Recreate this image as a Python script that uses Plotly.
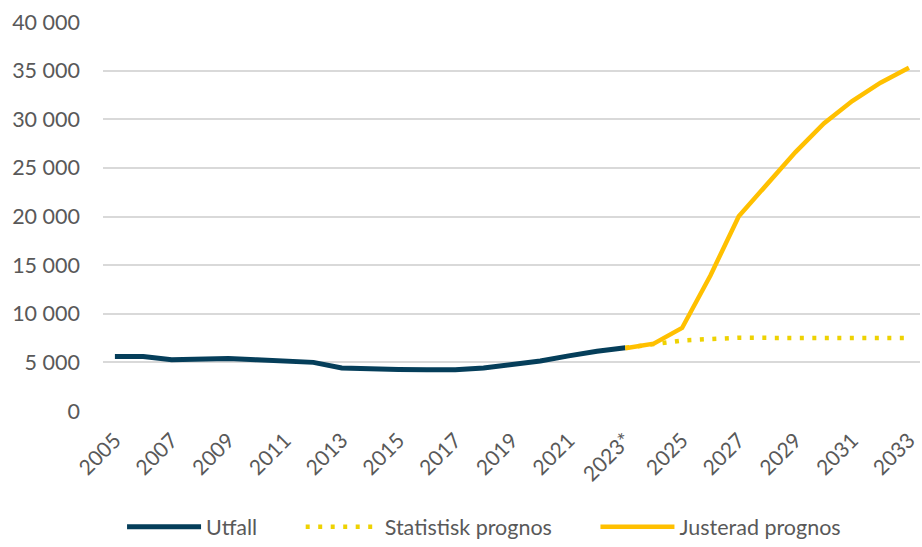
import plotly.graph_objects as go

years_utfall = list(range(2005, 2024))
utfall = [5600, 5600, 5260, 5290, 5400, 5270, 5150, 5000, 4430, 4300, 4260, 4230, 4230,
          4430, 4740, 5150, 5670, 6150, 6500]

years_prognos = list(range(2023, 2034))
statistisk = [6500, 6900, 7250, 7400, 7530, 7520, 7520, 7520, 7520, 7520, 7510]
justerad = [6450, 6930, 8540, 13930, 20030, 23400, 26620, 29570, 31870, 33760, 35300]

tick_years = list(range(2005, 2034, 2))
tick_labels = [("2023*" if y == 2023 else str(y)) for y in tick_years]
y_ticks = list(range(0, 40001, 5000))
y_tick_labels = ["0" if v == 0 else f"{v // 1000} 000" for v in y_ticks]

PAD = "\u00a0" * 7

fig = go.Figure()
fig.add_trace(go.Scatter(x=years_utfall, y=utfall, mode="lines", name="Utfall" + PAD,
                         line=dict(color="#053E5A", width=5)))
fig.add_trace(go.Scatter(x=years_prognos, y=statistisk, mode="lines", name="Statistisk prognos" + PAD,
                         line=dict(color="#EED202", width=4.5, dash="4px,8.5px")))
fig.add_trace(go.Scatter(x=years_prognos, y=justerad, mode="lines", name="Justerad prognos",
                         line=dict(color="#FFC000", width=4.5)))

fig.update_layout(
    width=922, height=547,
    margin=dict(l=103, r=2, t=22, b=136),
    paper_bgcolor="white", plot_bgcolor="white",
    font=dict(family="Lato", size=21.5, color="#595959"),
    showlegend=True,
    legend=dict(orientation="h", xref="container", x=0.525, xanchor="center",
                yref="container", y=0.037, yanchor="middle",
                font=dict(size=21.5, color="#595959"), itemwidth=74),
    hovermode=False,
)
fig.update_xaxes(
    range=[2004.58, 2033.39], tickvals=tick_years, ticktext=tick_labels, tickangle=-45,
    showgrid=False, zeroline=False, showline=False, ticks="", automargin=False,
    ticklabelstandoff=12,
    tickfont=dict(size=21, color="#595959"),
)
fig.update_yaxes(
    range=[0, 40000], tickvals=y_ticks, ticktext=y_tick_labels,
    showgrid=True, gridcolor="#D9D9D9", gridwidth=1.5, zeroline=False, showline=False,
    ticks="", ticklabelstandoff=22, automargin=False,
    tickfont=dict(size=21.5, color="#595959"),
)

fig.write_html("out.html", config={"displayModeBar": False},
               post_script="document.body.style.margin='0';")
